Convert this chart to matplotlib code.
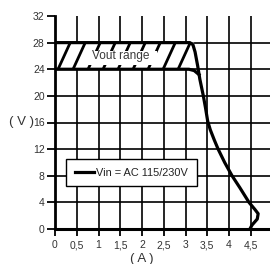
import numpy as np
import matplotlib
matplotlib.use('Agg')
import matplotlib.pyplot as plt
from matplotlib.patches import Rectangle, Polygon

plt.rcParams['font.family'] = ['Liberation Sans', 'DejaVu Sans']

# upper and lower bound of Vout vs output current
upper_x = [0, 3.10, 3.17, 3.22, 3.28, 3.33, 3.41, 3.46, 3.51, 3.57, 3.66, 3.75, 3.90,
           4.07, 4.25, 4.46, 4.60, 4.67, 4.65, 4.53, 4.48]
upper_y = [28, 28, 27.7, 26.6, 24.5, 22.5, 20.0, 18.2, 16.2, 14.9, 13.4, 12.0, 10.0,
           8.0, 6.2, 4.0, 2.9, 2.3, 1.5, 0.6, 0]
lower_x = [0, 3.08, 3.20, 3.31]
lower_y = [24, 24, 23.8, 23.2]

band_lo, band_hi = 24, 28
band_end = 3.1

xticks = np.arange(0, 5.01, 0.5)
xlabels = ['0', '0,5', '1', '1,5', '2', '2,5', '3', '3,5', '4', '4,5', '5']
yticks = np.arange(0, 33, 4)

fig = plt.figure(figsize=(2.70, 2.64), dpi=100)
ax = fig.add_axes([55 / 270, 1 - 229 / 264, 217.5 / 270, 213 / 264])
ax.set_xlim(0, 5)
ax.set_ylim(0, 32)

ax.set_xticks(xticks)
ax.set_xticklabels(xlabels)
ax.set_yticks(yticks)
ax.tick_params(axis='both', labelsize=7.5, labelcolor='#333333', width=1.3,
               direction='out', color='black')
ax.tick_params(axis='x', pad=3, length=5)
ax.tick_params(axis='y', pad=1.5, length=6)

ax.grid(True, color='black', linewidth=1.2, zorder=0.5)
ax.set_axisbelow(True)
ax.get_ygridlines()[-1].set_visible(False)

for s in ['top', 'right']:
    ax.spines[s].set_visible(False)
ax.spines['left'].set_linewidth(2)
ax.spines['bottom'].set_linewidth(2.2)

# white band with slanted hatching
band = Polygon([(0, band_lo), (band_end, band_lo), (band_end + 0.1, band_hi), (0, band_hi)],
               closed=True, facecolor='white', edgecolor='none', zorder=1)
ax.add_patch(band)
for x0 in np.arange(0.07, band_end + 0.1, 0.345):
    hl, = ax.plot([x0, x0 + 0.28], [band_lo, band_hi], color='black', lw=2.0,
                  solid_capstyle='butt', zorder=1.5)
    hl.set_clip_path(band)

ax.add_patch(Rectangle((0.72, 24.6), 1.63, 2.2, facecolor='white',
                       edgecolor='none', zorder=2))
ax.text(1.52, 26.0, 'Vout range', fontsize=8.6, color='#3a3a3a',
        ha='center', va='center', zorder=4)

ax.plot(upper_x, upper_y, color='black', lw=2.3, zorder=3,
        label='Vin = AC 115/230V', solid_joinstyle='round')
ax.plot(lower_x, lower_y, color='black', lw=2.3, zorder=3,
        solid_joinstyle='round')

leg = ax.legend(loc='lower left', bbox_to_anchor=(0.05, 0.2), fontsize=7.9,
                frameon=True, fancybox=False, handlelength=1.8,
                handletextpad=0.15, borderpad=0.8, borderaxespad=0)
leg.get_frame().set_edgecolor('black')
leg.get_frame().set_linewidth(1.0)
leg.get_frame().set_alpha(1)
leg.set_zorder(5)
for t in leg.get_texts():
    t.set_color('#222222')

ax.set_xlabel('( A )', fontsize=9.5, color='#333333', labelpad=0)
ax.xaxis.set_label_coords(0.40, -0.115)
ax.set_ylabel('( V )', fontsize=9.5, color='#333333', rotation=0,
              ha='right', va='center')
ax.yaxis.set_label_coords(-0.095, 0.5)

fig.savefig('out.png', dpi=100)
